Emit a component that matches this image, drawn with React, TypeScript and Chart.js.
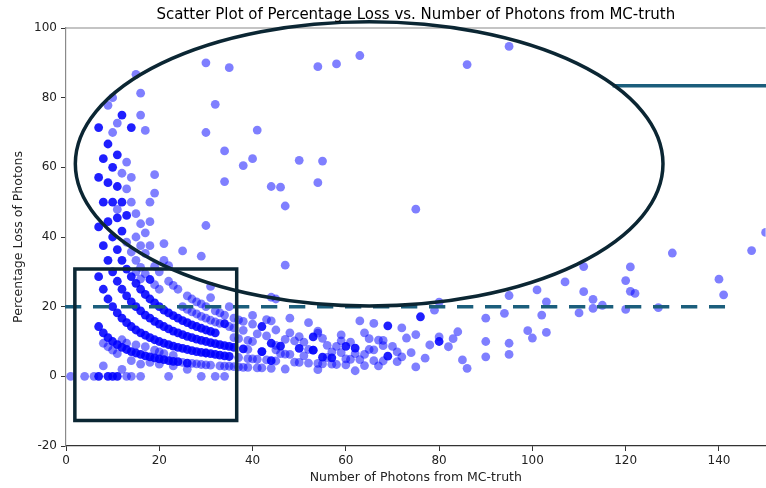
import React, { useEffect, useRef } from 'react';
import { Chart, registerables } from 'chart.js';

Chart.register(...registerables);

const TITLE = 'Scatter Plot of Percentage Loss vs. Number of Photons from MC-truth';
const X_LABEL = 'Number of Photons from MC-truth';
const Y_LABEL = 'Percentage Loss of Photons';
const X_TICKS = [0, 20, 40, 60, 80, 100, 120, 140];
const Y_TICKS = [-20, 0, 20, 40, 60, 80, 100];

// frequently repeated (overlapping, dark) observations
const densePoints: [number, number][] = [
  [7, 0], [7, 14.3], [7, 28.6], [7, 42.9], [7, 57.1], [7, 71.4],
  [8, 12.5], [8, 25], [8, 37.5], [8, 50], [8, 62.5],
  [9, 0], [9, 11.1], [9, 22.2], [9, 33.3], [9, 44.4], [9, 55.6], [9, 66.7],
  [10, 0], [10, 10], [10, 20], [10, 30], [10, 40], [10, 50], [10, 60],
  [11, 0], [11, 9.1], [11, 18.2], [11, 27.3], [11, 36.4], [11, 45.5], [11, 54.5], [11, 63.6],
  [12, 8.3], [12, 16.7], [12, 25], [12, 33.3], [12, 41.7], [12, 50], [12, 75],
  [13, 7.7], [13, 15.4], [13, 23.1], [13, 30.8], [13, 46.2],
  [14, 7.1], [14, 14.3], [14, 21.4], [14, 28.6], [14, 71.4],
  [15, 6.7], [15, 13.3], [15, 20], [15, 26.7],
  [16, 6.3], [16, 12.5], [16, 18.8], [16, 25],
  [17, 5.9], [17, 11.8], [17, 17.6], [17, 23.5],
  [18, 5.6], [18, 11.1], [18, 16.7], [18, 22.2], [18, 27.8],
  [19, 5.3], [19, 10.5], [19, 15.8], [19, 21.1],
  [20, 5], [20, 10], [20, 15], [20, 20],
  [21, 4.8], [21, 9.5], [21, 14.3], [21, 19],
  [22, 4.5], [22, 9.1], [22, 13.6], [22, 18.2],
  [23, 4.3], [23, 8.7], [23, 13], [23, 17.4],
  [24, 4.2], [24, 8.3], [24, 12.5], [24, 16.7],
  [25, 8], [25, 12], [25, 16],
  [26, 3.8], [26, 7.7], [26, 11.5], [26, 15.4],
  [27, 7.4], [27, 11.1], [27, 14.8],
  [28, 7.1], [28, 10.7], [28, 14.3],
  [29, 6.9], [29, 10.3], [29, 13.8],
  [30, 6.7], [30, 10], [30, 13.3],
  [31, 6.5], [31, 9.7], [31, 12.9],
  [32, 6.3], [32, 9.4], [32, 12.5],
  [33, 6.1], [33, 9.1],
  [34, 5.9], [34, 8.8], [34, 15.1],
  [35, 5.7], [35, 8.6],
  [36, 8.3], [38, 7.9], [42, 14.3], [42, 7.1], [44, 9.5], [44, 4.5],
  [46, 8.7], [50, 8], [53, 11.3], [53, 7.5], [55, 5.5], [57, 5.3],
  [60, 8.6], [62, 8.1], [69, 14.5], [69, 5.8], [76, 17.1], [80, 10],
];

// single observations
const lightPoints: [number, number][] = [
  [1, 0], [4, 0], [6, 0], [13, 0], [14, 0], [16, 0], [22, 0], [32, 0], [34, 0], [29, 0],
  [8, 3], [12, 2], [8, 9.5], [9, 8.5], [10, 7.5], [12, 10.5], [13, 9.5], [15, 9], [17, 8.5],
  [19, 7.5], [20, 7], [21, 6.5], [23, 6], [11, 6.5], [14, 4.5], [16, 3.5], [18, 4], [20, 3.5],
  [23, 3], [26, 2], [25, 4], [27, 3.7], [29, 3.4], [30, 6.7], [33, 3], [35, 2.9], [36, 2.8],
  [15, 86.7], [10, 80], [16, 81.3], [9, 77.8], [16, 75], [11, 72.7], [17, 70.6], [10, 70],
  [13, 61.5], [12, 58.3], [14, 57.1], [19, 57.9], [13, 53.8], [19, 52.6], [14, 50], [18, 50],
  [11, 47.9], [15, 46.7], [16, 43.8], [18, 44.4], [15, 40], [17, 41.2], [13, 38.5], [21, 38.1],
  [18, 37.5], [17, 35.3], [14, 35.7], [25, 36], [21, 33.3], [16, 37.5], [15, 33.3], [20, 30],
  [22, 31.8], [19, 31.6], [16, 31.3], [17, 29.4], [19, 26.3], [24, 25], [22, 27.3], [23, 26.1],
  [20, 25], [16, 28], [15, 30],
  [30, 90], [35, 88.6], [54, 88.9], [58, 89.7], [63, 92.1], [32, 78.1], [30, 70], [41, 70.7],
  [34, 64.7], [40, 62.5], [38, 60.5], [50, 62], [55, 61.8], [34, 55.9], [44, 54.5], [46, 54.3],
  [54, 55.6], [47, 48.9], [30, 43.3], [29, 34.5], [47, 31.9], [31, 25.8], [31, 22.6], [44, 22.7],
  [45, 22.2], [95, 94.7], [86, 89.5], [75, 48], [130, 35.4], [147, 36.1], [150, 41.3],
  [111, 31.5], [121, 31.4], [120, 27.5], [140, 27.9], [107, 27.1], [101, 24.8], [111, 24.3],
  [121, 24.4], [122, 23.8], [141, 23.4], [95, 23.2], [80, 21.3], [103, 21.4], [113, 22.1],
  [90, 16.7], [94, 18.1], [90, 10], [90, 5.6], [95, 9.5], [95, 6.3], [99, 13.1], [100, 11],
  [103, 12.6], [102, 17.6], [110, 18.2], [113, 19.5], [115, 20.4], [120, 19.2], [127, 19.7],
  [79, 19], [84, 12.8],
  [29, 20.8], [35, 20], [27, 18.5], [32, 18.8], [33, 18.2], [29, 17.2], [32, 15.6], [36, 16.7],
  [38, 15.8], [40, 17.5], [40, 15], [43, 16.3], [44, 15.9], [48, 16.7], [52, 15.4], [41, 12.2],
  [39, 10.3], [39, 7.7], [42, 7.1], [45, 8.9], [47, 10.6], [49, 10.2], [50, 11.4], [54, 13],
  [54, 12.4], [46, 6.5], [47, 6.4], [49, 4.1], [51, 5.9], [53, 7.5], [54, 3.7], [47, 2.1],
  [42, 2.4], [44, 2.3], [38, 2.6], [39, 5.1], [40, 5], [41, 4.9], [41, 2.4], [37, 5.4],
  [63, 15.9], [66, 15.2], [72, 13.9], [64, 12.5], [75, 12], [73, 11], [80, 11.3], [83, 10.8],
  [78, 9], [85, 4.7], [86, 2.3], [75, 2.7], [74, 6.8], [71, 7], [71, 4.2], [56, 8.9], [58, 8.6],
  [59, 10.2], [61, 9.8], [61, 4.9], [62, 6.5], [63, 4.8], [62, 1.6], [59, 6.8], [58, 3.4],
  [54, 1.9], [65, 7.7], [65, 10.8], [66, 7.6], [67, 10.4], [68, 10.3], [68, 8.8], [68, 4.4],
  [59, 11.9], [57, 3.5], [52, 7.7], [45, 7.6], [48, 6.3], [50, 4], [56, 5.4], [60, 5],
  [64, 6.3], [70, 8.6], [72, 5.6], [36, 11.1], [37, 10.8], [38, 13.2], [40, 10], [43, 11.6],
  [45, 13.3], [48, 12.5], [51, 9.8], [55, 10.9], [57, 7], [66, 4.5], [77, 5.2], [82, 8.5],
  [25, 20], [26, 19.2], [27, 22.2], [28, 17.9], [28, 21.4], [30, 16.7], [30, 20], [31, 16.1],
  [33, 15.2], [34, 17.6], [35, 14.3], [36, 13.9], [37, 16.2], [26, 23.1], [28, 3.6], [30, 3.3],
  [31, 3.2], [34, 2.9], [37, 2.7], [39, 2.6], [43, 4.7], [45, 4.4], [52, 3.8], [55, 3.6],
  [60, 3.3], [64, 3.1], [67, 3],
];

const ELLIPSE = { cx: 65, cy: 61, rx: 63, ry: 40.8 };
const BOX = { x0: 1.9, x1: 36.6, y0: -12.7, y1: 30.8 };
const DASHED = { y: 20, x0: 0, x1: 141.3 };
const SOLID = { y: 83.4, x0: 117.2, x1: 160 };

const DARK = '#0b2633';
const TEAL = '#1b5e7c';
const FONT = "'DejaVu Sans', sans-serif";

const overlayPlugin = {
  id: 'overlay',
  afterDatasetsDraw(chart: any) {
    const { ctx, chartArea, scales } = chart;
    const xs = scales.x;
    const ys = scales.y;
    const px = (v: number) => xs.getPixelForValue(v);
    const py = (v: number) => ys.getPixelForValue(v);
    ctx.save();
    // top spine
    ctx.strokeStyle = '#8a8a8a';
    ctx.lineWidth = 1.2;
    ctx.beginPath();
    ctx.moveTo(chartArea.left, chartArea.top);
    ctx.lineTo(chartArea.right, chartArea.top);
    ctx.stroke();

    // dashed level
    ctx.strokeStyle = TEAL;
    ctx.lineWidth = 3.5;
    ctx.setLineDash([16.3, 11.7]);
    ctx.beginPath();
    ctx.moveTo(px(DASHED.x0) - 1, py(DASHED.y));
    ctx.lineTo(px(DASHED.x1), py(DASHED.y));
    ctx.stroke();
    ctx.setLineDash([]);

    // solid level
    ctx.beginPath();
    ctx.moveTo(px(SOLID.x0), py(SOLID.y));
    ctx.lineTo(px(SOLID.x1), py(SOLID.y));
    ctx.stroke();

    // ellipse
    ctx.strokeStyle = DARK;
    ctx.lineWidth = 3.5;
    const cx = px(ELLIPSE.cx);
    const cy = py(ELLIPSE.cy);
    const rx = px(ELLIPSE.cx + ELLIPSE.rx) - cx;
    const ry = cy - py(ELLIPSE.cy + ELLIPSE.ry);
    ctx.beginPath();
    ctx.ellipse(cx, cy, rx, ry, 0, 0, Math.PI * 2);
    ctx.stroke();

    // box
    const bx0 = px(BOX.x0);
    const bx1 = px(BOX.x1);
    const by0 = py(BOX.y1);
    const by1 = py(BOX.y0);
    ctx.beginPath();
    ctx.rect(bx0, by0, bx1 - bx0, by1 - by0);
    ctx.stroke();

    // title
    ctx.fillStyle = '#000';
    ctx.font = `15px ${FONT}`;
    ctx.textAlign = 'center';
    ctx.textBaseline = 'middle';
    ctx.fillText(TITLE, (chartArea.left + chartArea.right) / 2, 15);
    ctx.restore();
  },
};

export default function App() {
  const ref = useRef<HTMLCanvasElement | null>(null);
  useEffect(() => {
    if (!ref.current) return;
    const toXY = (p: [number, number]) => ({ x: p[0], y: p[1] });
    const tickFont = { family: FONT, size: 12 };
    const labelFont = { family: FONT, size: 12.5 };
    const chart = new Chart(ref.current, {
      type: 'scatter',
      data: {
        datasets: [
          {
            data: lightPoints.map(toXY),
            backgroundColor: 'rgba(0,0,255,0.5)',
            borderColor: 'rgba(0,0,255,0.5)',
            borderWidth: 0,
            pointRadius: 4.4,
          },
          {
            data: densePoints.map(toXY),
            backgroundColor: 'rgba(0,0,255,0.88)',
            borderColor: 'rgba(0,0,255,0.88)',
            borderWidth: 0,
            pointRadius: 4.4,
          },
        ],
      },
      options: {
        animation: false,
        responsive: false,
        maintainAspectRatio: false,
        layout: { padding: { top: 28, right: 0, left: 0, bottom: 0 } },
        plugins: { legend: { display: false }, tooltip: { enabled: false }, title: { display: false } },
        scales: {
          x: {
            type: 'linear',
            min: 0,
            max: 150,
            afterBuildTicks: (s: any) => { s.ticks = X_TICKS.map((v) => ({ value: v })); },
            afterFit: (s: any) => { s.height = 42; },
            grid: { display: true, drawOnChartArea: false, drawTicks: true, tickLength: 5, tickColor: '#333', color: '#333' },
            border: { display: true, color: '#333', width: 1.2 },
            ticks: { color: '#222', font: tickFont, padding: 3, maxRotation: 0, autoSkip: false },
            title: { display: true, text: X_LABEL, color: '#222', font: labelFont, padding: { top: 0, bottom: 3 } },
          },
          y: {
            type: 'linear',
            min: -20,
            max: 100,
            afterBuildTicks: (s: any) => { s.ticks = Y_TICKS.map((v) => ({ value: v })); },
            afterFit: (s: any) => { s.width = 66; },
            grid: { display: true, drawOnChartArea: false, drawTicks: true, tickLength: 5, tickColor: '#333', color: '#333' },
            border: { display: true, color: '#8a8a8a', width: 1.2 },
            ticks: { color: '#222', font: tickFont, padding: 4, autoSkip: false },
            title: { display: true, text: Y_LABEL, color: '#222', font: labelFont, padding: { top: 11, bottom: 0 } },
          },
        },
      },
      plugins: [overlayPlugin],
    } as any);
    return () => chart.destroy();
  }, []);
  return (
    <div style={{ position: 'fixed', left: 0, top: 0, width: 766, height: 488, overflow: 'hidden', background: '#fff' }}>
      <canvas ref={ref} width={770} height={488} style={{ width: 770, height: 488, display: 'block' }} />
    </div>
  );
}
